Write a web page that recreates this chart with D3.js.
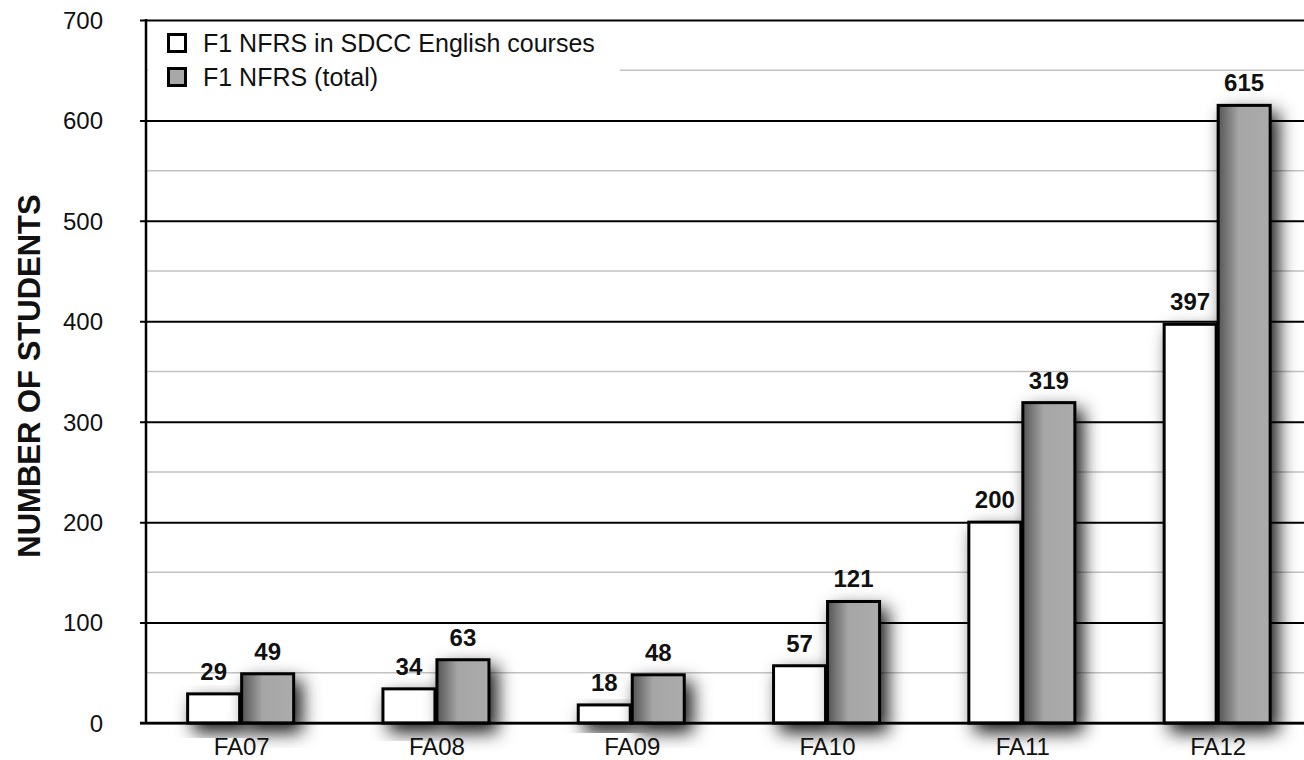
<!DOCTYPE html>
<html><head><meta charset="utf-8">
<script src="https://cdn.jsdelivr.net/npm/d3@7"></script>
<style>body{margin:0;background:#fff;}svg{display:block;font-family:"Liberation Sans",Arial,Helvetica,sans-serif;}</style>
</head><body>
<svg id="c" width="1304" height="760"></svg>
<script>
const categories = ["FA07","FA08","FA09","FA10","FA11","FA12"];
const seriesNames = ["F1 NFRS in SDCC English courses","F1 NFRS (total)"];
const englishValues = [29,34,18,57,200,397];
const totalValues = [49,63,48,121,319,615];
const majorTicks = [0,100,200,300,400,500,600,700];
const minorTicks = [50,150,250,350,450,550,650];
const yTitle = "NUMBER OF STUDENTS";

(function(){
const svg = d3.select("#c");
const axisX = 146, pLeft = 143, step = 195.3, pTop = 20, pBottom = 723;
const pRight = pLeft + step*categories.length;

const defs = svg.append("defs");
const f = defs.append("filter").attr("id","sh").attr("x","-50%").attr("y","-30%").attr("width","220%").attr("height","180%");
f.append("feDropShadow").attr("dx",7).attr("dy",8).attr("stdDeviation",9).attr("flood-color","#000").attr("flood-opacity",0.9);
const g = defs.append("linearGradient").attr("id","gr").attr("x1","0").attr("x2","1").attr("y1","0").attr("y2","0");
g.append("stop").attr("offset","0%").attr("stop-color","#555");
g.append("stop").attr("offset","40%").attr("stop-color","#a6a6a6");
g.append("stop").attr("offset","100%").attr("stop-color","#ababab");

const y = d3.scaleLinear().domain([0,700]).range([pBottom, pTop]);
const x = d3.scaleBand().domain(categories).range([pLeft, pRight]).paddingInner(0).paddingOuter(0);
const x1 = d3.scaleBand().domain([0,1]).range([0,106]).paddingInner(0.037);

svg.append("g").selectAll("line").data(minorTicks).join("line")
  .attr("x1",axisX).attr("x2",pRight).attr("y1",d=>y(d)).attr("y2",d=>y(d))
  .attr("stroke","#c2c2c2").attr("stroke-width",1.5);

svg.append("rect").attr("x",axisX+2).attr("y",pTop+2).attr("width",472).attr("height",78).attr("fill","#fff");

const yAxis = d3.axisLeft(y).tickValues(majorTicks).tickSize(-(pRight-axisX)).tickPadding(43);
const ya = svg.append("g").attr("transform",`translate(${axisX},0)`).call(yAxis);
ya.select(".domain").remove();
ya.selectAll(".tick line").attr("stroke","#000").attr("stroke-width",2).attr("x1",-6);
ya.selectAll(".tick text").attr("font-size",24).attr("fill","#111").attr("font-family","Liberation Sans, Arial, sans-serif").attr("dy","0.35em");
svg.append("line").attr("x1",axisX).attr("x2",axisX).attr("y1",pTop-1).attr("y2",pBottom+1).attr("stroke","#000").attr("stroke-width",2.5);

const groups = svg.append("g").selectAll("g").data(categories).join("g")
  .attr("transform",d=>`translate(${x(d)+x.bandwidth()/2-53},0)`);
const rows = categories.map((c,i)=>[{k:0,v:englishValues[i]},{k:1,v:totalValues[i]}]);
groups.each(function(c,i){
  const gg = d3.select(this);
  rows[i].forEach(d=>{
    gg.append("rect")
      .attr("x",x1(d.k)).attr("width",x1.bandwidth())
      .attr("y",y(d.v)).attr("height",y(0)-y(d.v))
      .attr("fill",d.k===0?"#fff":"url(#gr)")
      .attr("stroke","#000").attr("stroke-width",3)
      .attr("filter","url(#sh)");
  });
  rows[i].forEach(d=>{
    gg.append("text")
      .attr("x",x1(d.k)+x1.bandwidth()/2).attr("y",y(d.v)-14)
      .attr("text-anchor","middle").attr("font-size",24).attr("font-weight","bold").attr("fill","#111")
      .text(d.v);
  });
});

svg.append("line").attr("x1",axisX-6).attr("x2",pRight).attr("y1",pBottom).attr("y2",pBottom).attr("stroke","#000").attr("stroke-width",2.5);

svg.append("g").selectAll("text").data(categories).join("text")
  .attr("x",d=>x(d)+x.bandwidth()/2+1).attr("y",755).attr("text-anchor","middle")
  .attr("font-size",24).attr("fill","#111").text(d=>d);

svg.append("text").attr("transform","translate(40,376) rotate(-90)").attr("text-anchor","middle")
  .attr("font-size",31).attr("font-weight","bold").attr("fill","#111").text(yTitle);

const lg = svg.append("g");
seriesNames.forEach((s,i)=>{
  lg.append("rect").attr("x",168.5).attr("y",34.5+i*34).attr("width",17).attr("height",17)
    .attr("fill",i===0?"#fff":"#a8a8a8").attr("stroke","#000").attr("stroke-width",3);
  lg.append("text").attr("x",203).attr("y",52+i*34).attr("font-size",25).attr("fill","#111").text(s);
});
})();
</script>
</body></html>
